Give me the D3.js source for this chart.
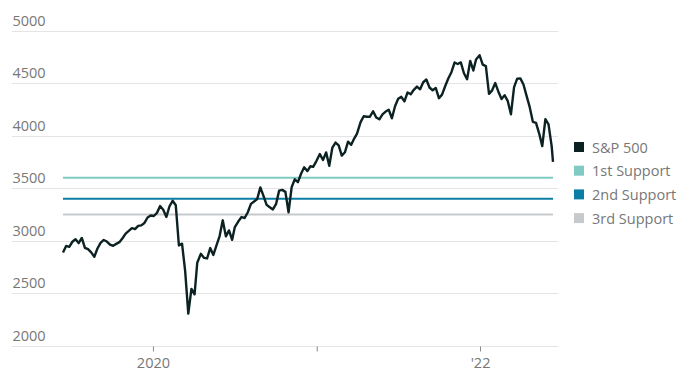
<!DOCTYPE html>
<html>
<head>
<meta charset="utf-8">
<script src="https://cdn.jsdelivr.net/npm/d3@7"></script>
<style>
  body { margin: 0; background: #fff; }
  text { font-family: 'Open Sans', 'Inter', sans-serif; }
</style>
</head>
<body>
<div id="chart"></div>
<script>
// Data: weekly S&P 500 closes
const dates = [
  "2019-06-14","2019-06-21","2019-06-28","2019-07-05","2019-07-12","2019-07-19","2019-07-26","2019-08-02","2019-08-09","2019-08-16","2019-08-23","2019-08-30","2019-09-06","2019-09-13","2019-09-20","2019-09-27","2019-10-04","2019-10-11","2019-10-18","2019-10-25","2019-11-01","2019-11-08","2019-11-15","2019-11-22","2019-11-29","2019-12-06","2019-12-13","2019-12-20","2019-12-27",
  "2020-01-03","2020-01-10","2020-01-17","2020-01-24","2020-01-31","2020-02-07","2020-02-14","2020-02-21","2020-02-28","2020-03-06","2020-03-13","2020-03-20","2020-03-27","2020-04-03","2020-04-09","2020-04-17","2020-04-24","2020-05-01","2020-05-08","2020-05-15","2020-05-22","2020-05-29","2020-06-05","2020-06-12","2020-06-19","2020-06-26","2020-07-02","2020-07-10","2020-07-17","2020-07-24","2020-07-31","2020-08-07","2020-08-14","2020-08-21","2020-08-28","2020-09-04","2020-09-11","2020-09-18","2020-09-25","2020-10-02","2020-10-09","2020-10-16","2020-10-23","2020-10-30","2020-11-06","2020-11-13","2020-11-20","2020-11-27","2020-12-04","2020-12-11","2020-12-18","2020-12-24","2020-12-31",
  "2021-01-08","2021-01-15","2021-01-22","2021-01-29","2021-02-05","2021-02-12","2021-02-19","2021-02-26","2021-03-05","2021-03-12","2021-03-19","2021-03-26","2021-04-01","2021-04-09","2021-04-16","2021-04-23","2021-04-30","2021-05-07","2021-05-14","2021-05-21","2021-05-28","2021-06-04","2021-06-11","2021-06-18","2021-06-25","2021-07-02","2021-07-09","2021-07-16","2021-07-23","2021-07-30","2021-08-06","2021-08-13","2021-08-20","2021-08-27","2021-09-03","2021-09-10","2021-09-17","2021-09-24","2021-10-01","2021-10-08","2021-10-15","2021-10-22","2021-10-29","2021-11-05","2021-11-12","2021-11-19","2021-11-26","2021-12-03","2021-12-10","2021-12-17","2021-12-23","2021-12-31",
  "2022-01-07","2022-01-14","2022-01-21","2022-01-28","2022-02-04","2022-02-11","2022-02-18","2022-02-25","2022-03-04","2022-03-11","2022-03-18","2022-03-25","2022-04-01","2022-04-08","2022-04-14","2022-04-22","2022-04-29","2022-05-06","2022-05-13","2022-05-20","2022-05-27","2022-06-03","2022-06-10","2022-06-13"
]
const closes = [
  2887,2950,2942,2990,3014,2977,3026,2932,2919,2889,2847,2926,2979,3007,2992,2962,2952,2970,2986,3023,3067,3093,3120,3110,3141,3146,3169,3221,3240,
  3235,3265,3330,3295,3226,3328,3380,3338,2954,2972,2711,2305,2541,2489,2790,2875,2837,2831,2930,2864,2955,3044,3194,3041,3098,3009,3130,3185,3225,3216,3271,3351,3373,3397,3508,3427,3341,3319,3298,3348,3477,3484,3465,3270,3510,3585,3558,3638,3699,3663,3709,3703,3756,
  3825,3768,3841,3714,3887,3934,3907,3811,3842,3943,3913,3975,4020,4129,4185,4180,4181,4233,4174,4156,4204,4230,4247,4166,4281,4352,4370,4327,4412,4395,4437,4468,4442,4509,4535,4459,4433,4455,4357,4391,4471,4545,4605,4697,4683,4698,4595,4538,4712,4621,4726,4766,
  4677,4663,4398,4432,4501,4419,4349,4385,4329,4204,4463,4543,4546,4488,4393,4272,4132,4123,4023,3901,4158,4108,3901,3750
]

const seriesNames = ["S&P 500", "1st Support", "2nd Support", "3rd Support"]
const supportLevels = [3600, 3400, 3250]
const colors = ["#0c2222", "#7fcbc3", "#0b7ea6", "#c7cacc"]

const yTicks = [2000, 2500, 3000, 3500, 4000, 4500, 5000]
const xTickDates = ["2020-01-01", "2021-01-01", "2022-01-01"]
const xTickLabels = ["2020", "", "'22"]

// Constants
const width = 689
const height = 379
const margin = { top: 31, right: 131, bottom: 33, left: 63 }
const gridLeft = 12
const gridRight = 558
const fontSize = "14.5px"

const parseDate = d3.timeParse("%Y-%m-%d")
const data = dates.map((d, i) => ({ date: parseDate(d), close: closes[i] }))

const svg = d3.select("#chart")
    .append("svg")
    .attr("width", width)
    .attr("height", height)

// Scales
const x = d3.scaleTime()
    .domain(d3.extent(data, d => d.date))
    .range([margin.left, 553])

const y = d3.scaleLinear()
    .domain([2000, 5000])
    .range([345.7, 30.7])

// Grid + y labels
const grid = svg.append("g").attr("id", "grid")
grid.selectAll("line")
    .data(yTicks)
    .join("line")
    .attr("x1", gridLeft)
    .attr("x2", gridRight)
    .attr("y1", d => Math.round(y(d)) + 0.5)
    .attr("y2", d => Math.round(y(d)) + 0.5)
    .style("stroke", "#e4e4e6")
    .style("stroke-width", 1)

grid.selectAll("text")
    .data(yTicks)
    .join("text")
    .attr("x", 12.5)
    .attr("y", d => y(d) - 5)
    .style("font-size", fontSize)
    .style("fill", "#777")
    .text(d => d)

// X axis ticks
const xAxisGroup = svg.append("g")
    .attr("id", "xAxisGroup")
    .attr("transform", `translate(0, ${Math.round(y(2000)) + 0.5})`)

const xAxis = d3.axisBottom(x)
    .tickValues(xTickDates.map(parseDate))
    .tickFormat((d, i) => xTickLabels[i])
    .tickSize(5)
    .tickPadding(6)

xAxisGroup.call(xAxis)
xAxisGroup.select(".domain").remove()
xAxisGroup.selectAll("line")
    .style("stroke", "#888")
xAxisGroup.selectAll("text")
    .style("font-size", fontSize)
    .style("font-family", "'Open Sans', sans-serif")
    .style("fill", "#777")

// Support lines
const supports = svg.append("g").attr("id", "supports")
supports.selectAll("line")
    .data(supportLevels)
    .join("line")
    .attr("x1", x.range()[0])
    .attr("x2", x.range()[1])
    .attr("y1", d => y(d))
    .attr("y2", d => y(d))
    .style("stroke", (d, i) => colors[i + 1])
    .style("stroke-width", 2)

// Price line
const line = d3.line()
    .x(d => x(d.date))
    .y(d => y(d.close))

svg.append("path")
    .datum(data)
    .attr("class", "line")
    .attr("d", line)
    .style("fill", "none")
    .style("stroke", colors[0])
    .style("stroke-width", 2.4)
    .style("stroke-linejoin", "round")

// Legend
const legend = svg.append("g")
    .attr("id", "legend")
    .attr("transform", "translate(574, 142)")

const items = legend.selectAll("g")
    .data(seriesNames)
    .join("g")
    .attr("transform", (d, i) => `translate(0, ${i * 23.7})`)

items.append("rect")
    .attr("width", 10)
    .attr("height", 10)
    .attr("fill", (d, i) => colors[i])

items.append("text")
    .attr("x", 18)
    .attr("y", 10.5)
    .style("font-size", fontSize)
    .style("fill", "#777")
    .text(d => d)
</script>
</body>
</html>
